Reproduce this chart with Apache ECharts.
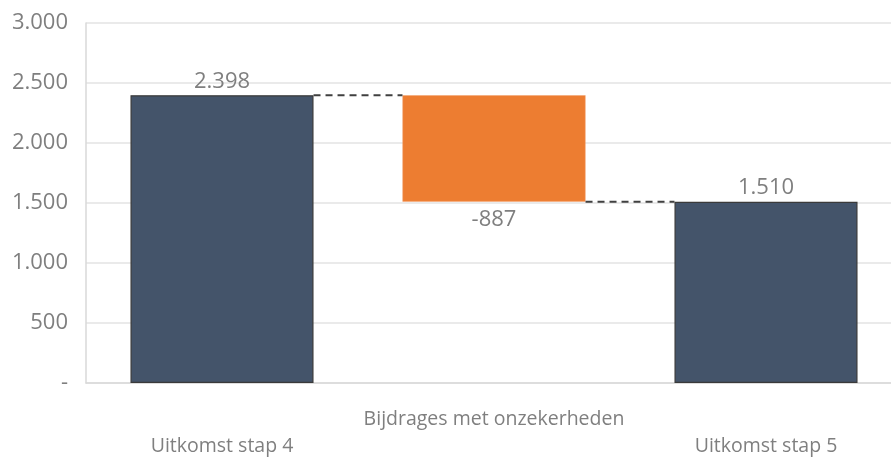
<!DOCTYPE html>
<html>
<head>
<meta charset="utf-8">
<title>Waterfall</title>
<script src="https://cdn.jsdelivr.net/npm/echarts@6/dist/echarts.min.js"></script>
<style>
  html, body { margin: 0; padding: 0; background: #fff; }
  #chart { width: 891px; height: 461px; }
</style>
</head>
<body>
<div id="chart"></div>
<script>
// data
const categories = ["Uitkomst stap 4", "Bijdrages met onzekerheden", "Uitkomst stap 5"];
const values = [2398, -887, 1510];
const isTotal = [true, false, true];
const yTicks = [0, 500, 1000, 1500, 2000, 2500, 3000];

const TEXT = "#7f7f7f";
const FONT = "Open Sans";
const barRatio = 0.673;

function nl(v) {
	const s = String(Math.abs(v)).replace(/\B(?=(\d{3})+(?!\d))/g, ".");
	return (v < 0 ? "-" : "") + s;
}

// running totals -> invisible base + visible height
const base = [];
const height = [];
const levels = []; // level after each bar, for connectors
let run = 0;
values.forEach((v, i) => {
	if (isTotal[i]) {
		base.push(0);
		height.push(v);
		run = v;
	} else {
		base.push(Math.min(run, run + v));
		height.push(Math.abs(v));
		run = run + v;
	}
	levels.push(run);
});

const connectors = [];
for (let i = 0; i < values.length - 1; i++) {
	connectors.push([i, levels[i]]);
}

const chart = echarts.init(document.getElementById("chart"));

chart.setOption({
	animation: false,
	textStyle: { fontFamily: FONT },
	grid: { left: 86, top: 23, bottom: 78, right: -11, containLabel: false, outerBoundsMode: "none" },
	xAxis: {
		type: "category",
		data: categories,
		axisLine: { show: true, lineStyle: { color: "#d9d9d9", width: 1.5 } },
		axisTick: { show: false },
		axisLabel: {
			interval: 0,
			margin: 23,
			color: TEXT,
			fontSize: 19.5,
			fontFamily: FONT,
			lineHeight: 27,
			verticalAlign: "top",
			formatter: (v, i) => (i % 2 === 1 ? v : "\n" + v),
		},
	},
	yAxis: {
		type: "value",
		min: 0,
		max: 3000,
		interval: 500,
		axisLine: { show: true, lineStyle: { color: "#d9d9d9", width: 1.5 } },
		axisTick: { show: false },
		splitLine: { lineStyle: { color: "#e3e3e3", width: 1.5 } },
		axisLabel: {
			color: TEXT,
			fontSize: 22,
			fontFamily: FONT,
			margin: 18,
			formatter: v => (yTicks.indexOf(v) === 0 ? "-" : nl(v)),
		},
	},
	series: [
		{
			type: "bar",
			stack: "w",
			barWidth: barRatio * 100 + "%",
			data: base,
			itemStyle: { color: "transparent" },
			silent: true,
		},
		{
			type: "bar",
			stack: "w",
			barWidth: barRatio * 100 + "%",
			data: height.map((h, i) => ({
				value: h,
				itemStyle: isTotal[i]
					? { color: "#44546a", borderColor: "#3a3a3a", borderWidth: 1.2 }
					: { color: "#ed7d31", borderColor: "#f2a06d", borderWidth: 0.5 },
				label: values[i] < 0 ? { position: "bottom", distance: 7 } : { position: "top", distance: 3 },
			})),
			label: {
				show: true,
				color: TEXT,
				fontSize: 22,
				fontFamily: FONT,
				formatter: p => nl(values[p.dataIndex]),
			},
			silent: true,
		},
		{
			type: "custom",
			data: connectors,
			z: 3,
			silent: true,
			renderItem: (params, api) => {
				const i = api.value(0);
				const y = api.value(1);
				const p0 = api.coord([i, y]);
				const p1 = api.coord([i + 1, y]);
				const bw = api.size([1, 0])[0] * barRatio;
				return {
					type: "line",
					shape: { x1: p0[0] + bw / 2, y1: p0[1], x2: p1[0] - bw / 2, y2: p1[1] },
					style: { stroke: "#404040", lineWidth: 2, lineDash: [7, 5] },
				};
			},
		},
	],
});
</script>
</body>
</html>
